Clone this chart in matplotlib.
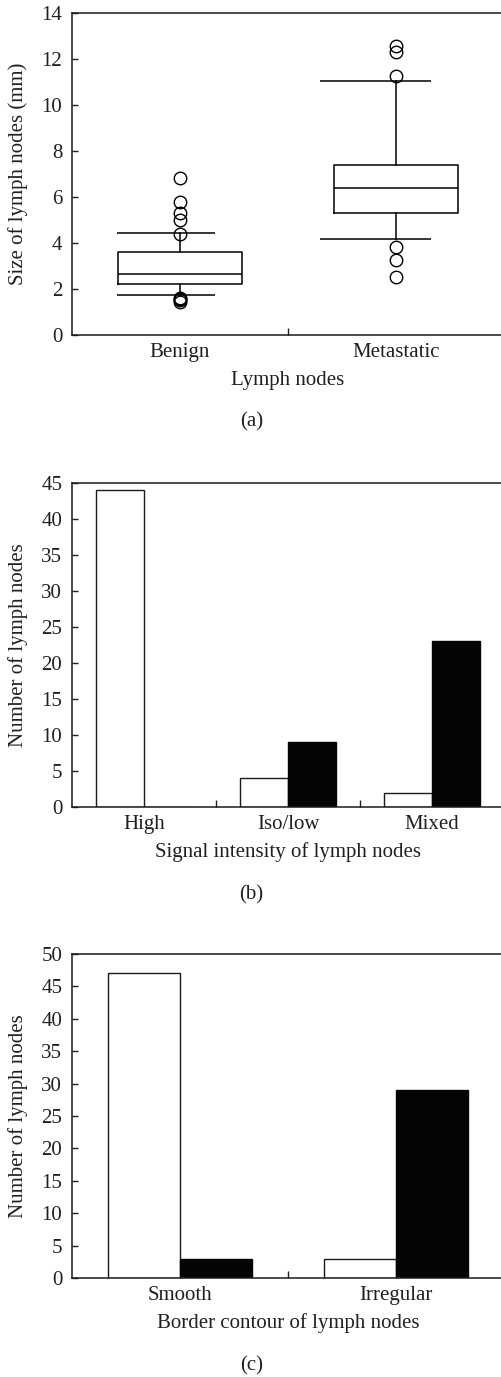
import matplotlib
matplotlib.use('Agg')
import matplotlib.pyplot as plt
from matplotlib.ticker import FixedLocator

# Panel (a): box plot statistics, size of lymph nodes (mm)
groups = ['Benign', 'Metastatic']
q1 = [2.2, 5.28]
med = [2.65, 6.4]
q3 = [3.6, 7.4]
whislo = [1.74, 4.19]
whishi = [4.42, 11.05]
fliers = [[6.8, 5.77, 5.28, 5.0, 4.38, 1.62, 1.55, 1.5, 1.45],
          [12.55, 12.3, 11.25, 3.84, 3.27, 2.5]]

# Panel (b): signal intensity
sig_cats = ['High', 'Iso/low', 'Mixed']
sig_benign = [44, 4, 2]
sig_meta = [0, 9, 23]

# Panel (c): border contour
bor_cats = ['Smooth', 'Irregular']
bor_benign = [47, 3]
bor_meta = [3, 29]

TXT = '#231f20'
plt.rcParams['font.family'] = ['Liberation Serif', 'DejaVu Serif']
plt.rcParams['font.size'] = 15
plt.rcParams['text.color'] = TXT
plt.rcParams['axes.labelcolor'] = TXT
plt.rcParams['xtick.color'] = TXT
plt.rcParams['ytick.color'] = TXT

W, H = 501, 1377
fig = plt.figure(figsize=(W / 100, H / 100), dpi=100)


def make_axes(top, bottom):
    left, right = 72, 504
    return fig.add_axes([left / W, 1 - bottom / H, (right - left) / W, (bottom - top) / H])


def style(ax, centers, seps, labels, xlabel, ylabel, tag):
    for s in ax.spines.values():
        s.set_linewidth(1.1)
        s.set_color('#1a1a1a')
    ax.spines['right'].set_visible(False)
    ax.xaxis.set_major_locator(FixedLocator(seps))
    ax.xaxis.set_minor_locator(FixedLocator(centers))
    ax.set_xticklabels([], minor=False)
    ax.set_xticklabels(labels, minor=True)
    ax.tick_params(axis='x', which='major', direction='in', length=5, width=1)
    ax.tick_params(axis='x', which='minor', length=0, pad=6)
    ax.tick_params(axis='y', direction='in', length=4, width=1, pad=7)
    ax.set_xlabel(xlabel)
    ax.set_ylabel(ylabel)
    ax.xaxis.set_label_coords(0.5, -0.14)
    ax.xaxis.label.set_va('center')
    ax.yaxis.set_label_coords(-0.125, 0.5)
    ax.yaxis.label.set_va('center')
    ax.text(0.415, -0.27, tag, transform=ax.transAxes, ha='center', va='center')


# (a)
ax1 = make_axes(12.7, 335)
pos = [1, 2]
stats = []
for i in range(2):
    stats.append(dict(q1=q1[i], med=med[i], q3=q3[i], whislo=whislo[i],
                      whishi=whishi[i], fliers=fliers[i]))
lw = 1.1
ax1.bxp(stats, positions=pos, widths=0.57, showcaps=False,
        boxprops=dict(color='black', linewidth=lw),
        whiskerprops=dict(color='black', linewidth=lw),
        medianprops=dict(color='black', linewidth=lw),
        flierprops=dict(marker='o', markerfacecolor='none', markeredgecolor='black',
                        markersize=9, markeredgewidth=1.0))
cap_left = [0.29, 0.35]
for i, p in enumerate(pos):
    ax1.hlines([whislo[i], whishi[i]], p - cap_left[i], p + 0.16, color='black', linewidth=lw)
ax1.set_xlim(0.5, 2.5)
ax1.set_ylim(0, 14)
ax1.set_yticks(range(0, 15, 2))
style(ax1, pos, [1.5], groups, 'Lymph nodes', 'Size of lymph nodes (mm)', '(a)')

# (b)
ax2 = make_axes(483, 807)
x2 = list(range(len(sig_cats)))
bw = 0.336
ax2.bar([x - bw / 2 for x in x2], sig_benign, bw, color='white', edgecolor='#1a1a1a', linewidth=1)
ax2.bar([x + bw / 2 for x in x2], sig_meta, bw, color='#050505', edgecolor='#050505', linewidth=1)
ax2.set_xlim(-0.5, 2.5)
ax2.set_ylim(0, 45)
ax2.set_yticks(range(0, 46, 5))
style(ax2, x2, [0.5, 1.5], sig_cats, 'Signal intensity of lymph nodes',
      'Number of lymph nodes', '(b)')

# (c)
ax3 = make_axes(954, 1278)
x3 = [1, 2]
bw = 0.333
ax3.bar([x - bw / 2 for x in x3], bor_benign, bw, color='white', edgecolor='#1a1a1a', linewidth=1)
ax3.bar([x + bw / 2 for x in x3], bor_meta, bw, color='#050505', edgecolor='#050505', linewidth=1)
ax3.set_xlim(0.5, 2.5)
ax3.set_ylim(0, 50)
ax3.set_yticks(range(0, 51, 5))
style(ax3, x3, [1.5], bor_cats, 'Border contour of lymph nodes',
      'Number of lymph nodes', '(c)')

fig.savefig('out.png', dpi=100)
